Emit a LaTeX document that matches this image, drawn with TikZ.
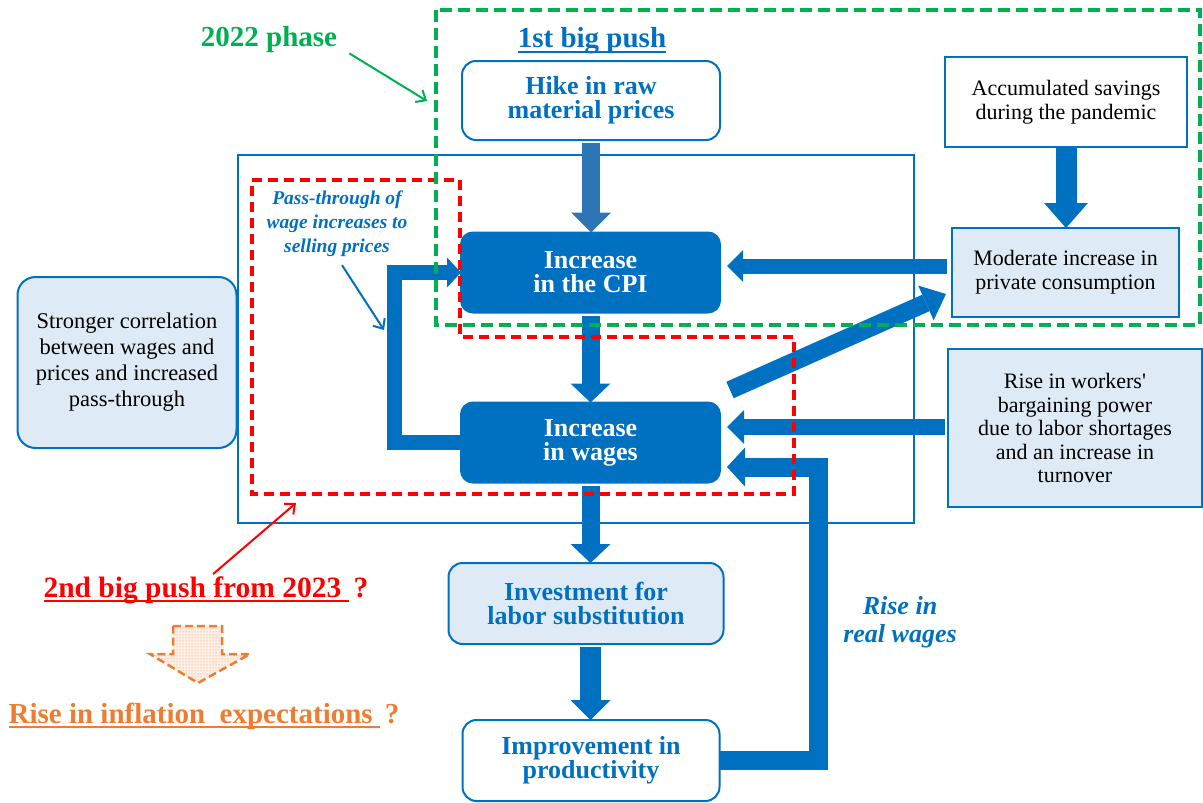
\documentclass[tikz,border=0pt]{standalone}
\usepackage{fontspec}
\setmainfont{Liberation Serif}
\usetikzlibrary{arrows.meta,patterns,calc}
\definecolor{mblue}{HTML}{0070C0}
\definecolor{lblue}{HTML}{DEEBF7}
\definecolor{hblue}{HTML}{2E75B6}
\definecolor{mgreen}{HTML}{00B050}
\definecolor{mred}{HTML}{FF0000}
\definecolor{morange}{HTML}{ED7D31}
\newcommand\fsz[2]{\fontsize{#1}{#2}\selectfont}
\newsavebox\ulbox
\newcommand\thul[1]{\sbox\ulbox{#1}\leavevmode\rlap{\rule[-5pt]{\wd\ulbox}{1.8pt}}\usebox\ulbox}
\begin{document}
\begin{tikzpicture}[x=1pt,y=-1pt,
  box/.style={draw=mblue, line width=2pt, align=center, inner sep=0pt, outer sep=0pt},
  rbox/.style={box, rounded corners=14pt},
  boldtxt/.style={font=\bfseries\fsz{26}{24}},
  regtxt/.style={font=\fsz{22}{24}, text=black},
  darkbox/.style={rbox, rounded corners=12pt, fill=mblue, text=white, boldtxt, minimum width=259pt, minimum height=80pt},
  blk/.style n args={4}{draw=#4, line join=miter, line width=#1pt, -{Triangle[width=#2pt,length=#3pt,line width=0pt]}},
  thin/.style={draw=#1, line width=2pt, -{Straight Barb[length=8pt,width=14pt,line width=2pt]}},
  label/.style={inner sep=0pt, align=center}
]
\useasboundingbox (0,0) rectangle (1203,803);
% outer blue frame
\draw[mblue, line width=2pt] (238,155) rectangle (914,523);

% boxes
\node[rbox, fill=white, text=mblue, boldtxt, minimum width=258pt, minimum height=79pt] (hike) at (591,100.5) {Hike in raw\\material prices};
\node[darkbox] (cpi) at (590.5,272.5) {Increase\\in the CPI};
\node[darkbox] (wages) at (590.5,442.5) {Increase\\in wages};
\node[rbox, fill=lblue, text=mblue, boldtxt, minimum width=275pt, minimum height=81pt] (invest) at (586,603.5) {Investment for\\labor substitution};
\node[rbox, fill=white, text=mblue, boldtxt, minimum width=257pt, minimum height=81pt] (prod) at (591,760.5) {Improvement in\\productivity};
\node[box, fill=white, regtxt, minimum width=242pt, minimum height=90pt] (savings) at (1066,102) {Accumulated savings\\during the pandemic};
\node[box, fill=lblue, regtxt, minimum width=227pt, minimum height=89pt] (moderate) at (1065.5,272.5) {Moderate increase in\\private consumption};
\node[box, fill=lblue, regtxt, font=\fsz{22}{23.5}, minimum width=254pt, minimum height=158pt] (bargain) at (1075,428) {Rise in workers\textquotesingle\\bargaining power\\due to labor shortages\\and an increase in\\turnover};
\node[rbox, rounded corners=18pt, fill=lblue, regtxt, font=\fsz{22.5}{26}, minimum width=219pt, minimum height=171pt] (stronger) at (127,362.5) {Stronger correlation\\between wages and\\prices and increased\\pass-through};

% labels
\node[label, text=mgreen, font=\bfseries\fsz{29}{30}] (phase) at (269,40) {2022 phase};
\node[label, text=mblue, font=\bfseries\fsz{29}{30}] (push1) at (592,41) {\thul{1st big push}};
\node[label, text=mblue, font=\bfseries\itshape\fsz{19.5}{24}] (passlbl) at (337,224) {Pass-through of\\wage increases to\\selling prices};
\node[label, text=mblue, font=\bfseries\itshape\fsz{26}{28}] (realw) at (900,622) {Rise in\\real wages};
\node[label, text=mred, font=\bfseries\fsz{29.5}{30}] (push2) at (206,590) {\thul{2nd big push from 2023\ }\,?};
\node[label, text=morange, font=\bfseries\fsz{29}{30}] (expect) at (204,716) {\thul{Rise in inflation\ \ expectations\ }\,?};

% block arrows
\draw[blk={18}{40}{20}{hblue}] ([yshift=-3pt]hike.south) -- (hike.south |- cpi.north);
\draw[blk={18}{40}{19}{mblue}] ([yshift=-3pt]cpi.south) -- (cpi.south |- wages.north);
\draw[blk={18}{40}{19}{mblue}] ([yshift=-3pt]wages.south) -- (wages.south |- invest.north);
\draw[blk={21}{40}{20}{mblue}] ([yshift=-3pt]wages.south |- invest.south) -- (wages.south |- prod.north);
\draw[blk={21}{44}{25}{mblue}] (savings.south) -- (savings.south |- moderate.north);
\draw[blk={15}{32}{16}{mblue}] ([yshift=6.5pt,xshift=-5pt]moderate.west) -- ([yshift=6.5pt,xshift=7pt]cpi.east);
\draw[blk={16}{34}{17}{mblue}] ([yshift=1pt,xshift=-3pt]bargain.west) -- ([yshift=15.5pt,xshift=7pt]wages.east);
\draw[blk={18}{38}{22}{mblue}] ([xshift=10pt,yshift=12.5pt]wages.north east) -- ([xshift=-6pt,yshift=-21.5pt]moderate.west);
\draw[blk={15}{30}{14}{mblue}] (wages.west) -- ++(-67,0) |- (cpi.west);
\draw[blk={19}{39}{18}{mblue}] (prod.east) -- ++(98.5,0) |- ([yshift=-24.5pt,xshift=7pt]wages.east);

% orange block arrow
\draw[morange, line width=2.5pt, dash pattern=on 8pt off 4pt, preaction={fill=morange!12}, pattern=dots, pattern color=morange!80]
  (173,626) -- (222,626) -- (222,654) -- (250,654) -- (198,683) -- (150,654) -- (173,654) -- cycle;

% dashed frames
\draw[mred, line width=4pt, dash pattern=on 10pt off 6pt] (252,180) -- (460,180) -- (460,337) -- (794,337) -- (794,494) -- (252,494) -- cycle;
\draw[mgreen, line width=3.5pt, dash pattern=on 12pt off 6pt] (436,10) rectangle (1200,325);

% thin arrows
\coordinate (greentip) at (427,101);
\coordinate (redtip) at (296,503);
\coordinate (bluetip) at (384,330);
\draw[thin=mgreen] ([xshift=12pt,yshift=0pt]phase.south east) -- (greentip);
\draw[thin=mred] ([xshift=7pt,yshift=2pt]push2.north) -- (redtip);
\draw[thin=mblue] ([xshift=5pt,yshift=-8pt]passlbl.south) -- (bluetip);
\end{tikzpicture}
\end{document}
